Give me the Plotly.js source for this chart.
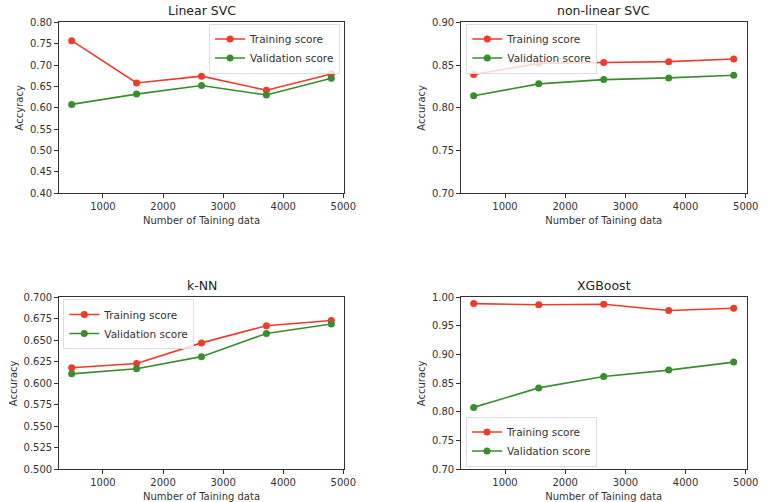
<!DOCTYPE html>
<html><head><meta charset="utf-8">
<script src="https://cdn.plot.ly/plotly-3.0.1.min.js"></script>
<style>html,body{margin:0;padding:0;background:#fff}#chart{width:768px;height:502px}</style>
</head><body><div id="chart"></div>
<script>
// Data
const trainSizes = [480, 1560, 2640, 3720, 4800];
const modelNames = ["Linear SVC", "non-linear SVC", "k-NN", "XGBoost"];
const linearSvcTrain = [0.757, 0.658, 0.674, 0.641, 0.679];
const linearSvcValid = [0.608, 0.632, 0.652, 0.630, 0.669];
const nonlinSvcTrain = [0.839, 0.852, 0.853, 0.854, 0.857];
const nonlinSvcValid = [0.814, 0.828, 0.833, 0.835, 0.838];
const knnTrain = [0.618, 0.623, 0.647, 0.667, 0.673];
const knnValid = [0.611, 0.617, 0.631, 0.658, 0.669];
const xgbTrain = [0.989, 0.987, 0.988, 0.977, 0.981];
const xgbValid = [0.808, 0.842, 0.862, 0.873, 0.887];
const seriesNames = ["Training score", "Validation score"];
const xTicks = [1000, 2000, 3000, 4000, 5000];
const yLabels = ["Accyracy", "Accuracy", "Accuracy", "Accuracy"];
const xLabel = "Number of Taining data";

const RED = "#f03a2c", GREEN = "#3a8c2e";
const W = 768, H = 502;
const panels = [
  {tr: linearSvcTrain, va: linearSvcValid, x0: 58.7, x1: 344.3, y0: 22.3, y1: 193.3, yr: [0.40, 0.80], dt: 0.05, fmt: ".2f",
   leg: {x: 340, y: 23.5, xa: "right", ya: "top"}},
  {tr: nonlinSvcTrain, va: nonlinSvcValid, x0: 460.7, x1: 746.7, y0: 22.3, y1: 193.3, yr: [0.70, 0.90], dt: 0.05, fmt: ".2f",
   leg: {x: 466.3, y: 23.5, xa: "left", ya: "top"}},
  {tr: knnTrain, va: knnValid, x0: 58.7, x1: 344.3, y0: 297.3, y1: 469.3, yr: [0.500, 0.700], dt: 0.025, fmt: ".3f",
   leg: {x: 63.3, y: 299, xa: "left", ya: "top"}},
  {tr: xgbTrain, va: xgbValid, x0: 460.7, x1: 746.7, y0: 297.3, y1: 469.3, yr: [0.70, 1.00], dt: 0.05, fmt: ".2f",
   leg: {x: 466, y: 466.5, xa: "left", ya: "bottom"}}
];

const data = [];
const layout = {
  width: W, height: H, margin: {l: 0, r: 0, t: 0, b: 0},
  paper_bgcolor: "#fff", plot_bgcolor: "#fff",
  font: {family: "DejaVu Sans", size: 10, color: "#333"},
  annotations: [], showlegend: true
};

panels.forEach((p, i) => {
  const n = i + 1;
  const xa = "x" + (n === 1 ? "" : n), ya = "y" + (n === 1 ? "" : n);
  const legName = n === 1 ? "legend" : "legend" + n;
  [[p.tr, RED, seriesNames[0]], [p.va, GREEN, seriesNames[1]]].forEach(([vals, col, nm]) => {
    data.push({
      x: trainSizes, y: vals, type: "scatter", mode: "lines+markers", name: nm,
      xaxis: xa, yaxis: ya, legend: legName,
      line: {color: col, width: 1.6}, marker: {color: col, size: 7}
    });
  });
  const ax = {
    domain: [p.x0 / W, p.x1 / W], range: [264, 5016], tickvals: xTicks,
    showgrid: false, zeroline: false, showline: true, mirror: true, linecolor: "#333", linewidth: 1,
    ticks: "outside", ticklen: 3.5, tickcolor: "#333", tickfont: {size: 10, color: "#333"},
    anchor: ya, automargin: false,
    title: {text: xLabel, font: {size: 10, color: "#333"}, standoff: 6}
  };
  const yticks = [];
  for (let v = p.yr[0]; v <= p.yr[1] + 1e-9; v += p.dt) yticks.push(+v.toFixed(3));
  const ay = {
    domain: [1 - p.y1 / H, 1 - p.y0 / H], range: p.yr, tickvals: yticks, tickformat: p.fmt,
    showgrid: false, zeroline: false, showline: true, mirror: true, linecolor: "#333", linewidth: 1,
    ticks: "outside", ticklen: 3.5, tickcolor: "#333", tickfont: {size: 10, color: "#333"},
    anchor: xa, automargin: false,
    title: {text: yLabels[i], font: {size: 10, color: "#333"}, standoff: 4}
  };
  layout["xaxis" + (n === 1 ? "" : n)] = ax;
  layout["yaxis" + (n === 1 ? "" : n)] = ay;
  layout[legName] = {
    x: p.leg.x / W, y: 1 - p.leg.y / H, xanchor: p.leg.xa, yanchor: p.leg.ya,
    bgcolor: "rgba(255,255,255,0.8)", bordercolor: "#ddd", borderwidth: 1,
    font: {size: 10.5, color: "#333"}, tracegroupgap: 0, itemwidth: 30
  };
  layout.annotations.push({
    text: modelNames[i], xref: "paper", yref: "paper",
    x: (p.x0 + p.x1) / 2 / W, y: 1 - (p.y0 - 2) / H, xanchor: "center", yanchor: "bottom",
    showarrow: false, font: {size: 12.5, color: "#222"}
  });
});

Plotly.newPlot("chart", data, layout, {staticPlot: true, displayModeBar: false});
</script></body></html>
